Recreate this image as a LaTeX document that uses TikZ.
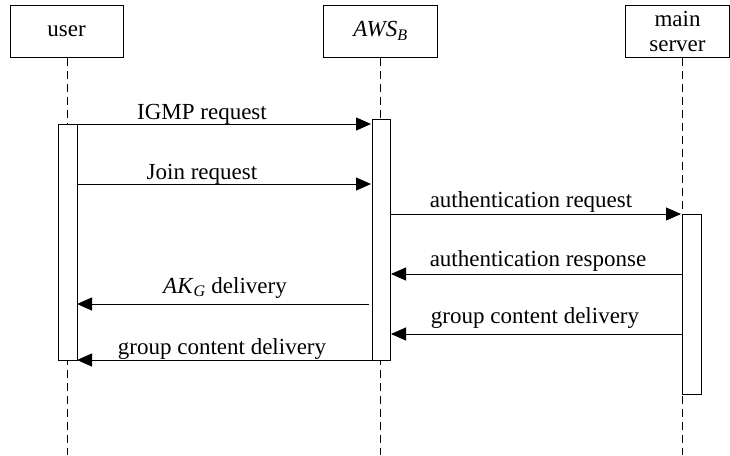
\documentclass[tikz,border=0pt]{standalone}
\usepackage{fontspec}
\setmainfont{Liberation Serif}
\usetikzlibrary{arrows.meta}
\begin{document}
\begin{tikzpicture}[x=1pt,y=-1pt,
  font=\fontsize{23}{25}\selectfont,
  actor/.style={draw, line width=1pt, fill=white, inner sep=0pt},
  life/.style={line width=0.9pt, dash pattern=on 8pt off 5pt},
  act/.style={draw, line width=1pt, fill=white},
  msg/.style={line width=1pt, -{Triangle[length=15pt,width=13pt]}},
  lbl/.style={anchor=base, inner sep=0pt}]
\useasboundingbox (0,0) rectangle (730,455);
% actor boxes
\node[actor, minimum width=113pt, minimum height=52pt] (user) at (66.5,31) {user};
\node[actor, minimum width=114pt, minimum height=52pt] (aws) at (380.5,31) {\textit{AWS}\textsubscript{\textit{B}}};
\node[actor, minimum width=104pt, minimum height=52pt, align=center, font=\fontsize{23}{25}\selectfont] (srv) at (677.5,31) {main\\server};
% lifeline ends
\coordinate (uend) at (67,455);
\coordinate (aend) at (380,455);
\coordinate (send) at (682,455);
\draw[life] (user.south -| uend) -- (uend);
\draw[life] (aws.south -| aend) -- (aend);
\draw[life] (srv.south -| send) -- (send);
% activation bars
\draw[act] (58,124) rectangle (77,360);
\draw[act] (372,119) rectangle (390,360);
\draw[act] (682,214) rectangle (701,394);
% message anchor points
\coordinate (u1) at (77,124);  \coordinate (a1) at (371,124);
\coordinate (u2) at (77,184);  \coordinate (a2) at (371,184);
\coordinate (a3) at (390,214); \coordinate (s3) at (681,214);
\coordinate (s4) at (682,274); \coordinate (a4) at (391,274);
\coordinate (a5) at (369,304); \coordinate (u5) at (77,304);
\coordinate (s6) at (682,334); \coordinate (a6) at (391,334);
\coordinate (a7) at (372,360); \coordinate (u7) at (77,360);
% messages
\draw[msg] (u1) -- (a1);
\draw[msg] (u2) -- (a2);
\draw[msg] (a3) -- (s3);
\draw[msg] (s4) -- (a4);
\draw[msg] (a5) -- (u5);
\draw[msg] (s6) -- (a6);
\draw[msg] (a7) -- (u7);
% labels
\node[lbl] (l1) at (202,119) {IGMP request};
\node[lbl] (l2) at (202,179) {Join request};
\node[lbl] (l3) at (531,207) {authentication request};
\node[lbl] (l4) at (538,266) {authentication response};
\node[lbl] (l5) at (225,293) {\textit{AK}\textsubscript{\textit{G}} delivery};
\node[lbl] (l6) at (535,323) {group content delivery};
\node[lbl] (l7) at (222,354) {group content delivery};
\end{tikzpicture}
\end{document}
